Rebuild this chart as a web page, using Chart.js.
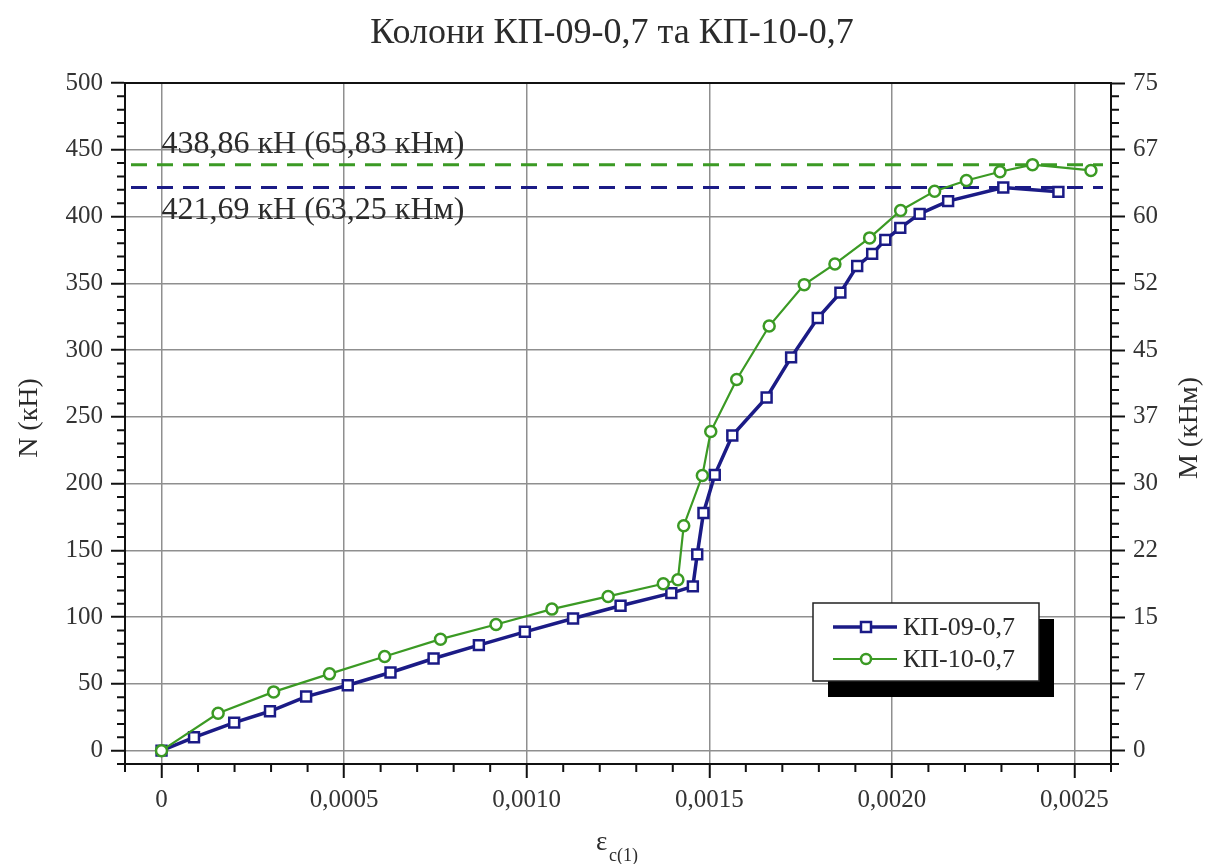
<!DOCTYPE html>
<html>
<head>
<meta charset="utf-8">
<script src="https://cdn.jsdelivr.net/npm/chart.js@4/dist/chart.umd.min.js"></script>
<style>
  html, body { margin: 0; padding: 0; background: #fff; }
  #wrap { width: 1218px; height: 864px; position: relative; }
</style>
</head>
<body>
<div id="wrap"><canvas id="chart" width="1218" height="864"></canvas></div>
<script>
// Відносні деформації та поздовжні сили, колона КП-09-0,7
const strain09 = [0, 0.000089, 0.000199, 0.000297, 0.000396, 0.000510, 0.000627, 0.000745, 0.000869, 0.000995,
  0.001127, 0.001257, 0.001396, 0.001455, 0.001467, 0.001484, 0.001515, 0.001563, 0.001657, 0.001724,
  0.001797, 0.001859, 0.001905, 0.001946, 0.001982, 0.002023, 0.002076, 0.002154, 0.002305, 0.002456];
const force09 = [0, 10, 21, 29.5, 40.5, 49, 58.5, 69, 79, 89,
  99, 108.5, 118, 123, 147, 178, 206.5, 236, 264.5, 294.5,
  324, 343, 363, 372, 382.5, 391.5, 402, 411.5, 421.69, 418.5];

// колона КП-10-0,7
const strain10 = [0, 0.000155, 0.000307, 0.000460, 0.000611, 0.000764, 0.000916, 0.001069, 0.001223, 0.001374,
  0.001414, 0.001430, 0.001481, 0.001504, 0.001575, 0.001664, 0.001760, 0.001844, 0.001939, 0.002024,
  0.002117, 0.002204, 0.002296, 0.002385, 0.002545];
const force10 = [0, 28, 44, 57.5, 70.5, 83.5, 94.5, 106, 115.5, 125,
  128, 168.5, 206, 239, 278, 318, 349, 364.5, 384, 404.5,
  419, 427, 433.5, 438.86, 434.5];

const seriesNames = ['КП-09-0,7', 'КП-10-0,7'];
const peakForces = [421.69, 438.86];   // максимальні N, кН
const momentFactor = 0.15;             // M = N * e, кНм

const xTicks = [0, 0.0005, 0.0010, 0.0015, 0.0020, 0.0025];
const nTicks = [0, 50, 100, 150, 200, 250, 300, 350, 400, 450, 500];
const mTicks = [0, 7.5, 15, 22.5, 30, 37.5, 45, 52.5, 60, 67.5, 75];

const X_MIN = -0.0001, X_MAX = 0.0026;
const N_MIN = -10, N_MAX = 500;

const BLUE = '#1b1b86';
const GREEN = '#3b9a24';
const FONT = '"Liberation Serif", "DejaVu Serif", serif';

const toPoints = (xs, ys) => xs.map((x, i) => ({ x: x, y: ys[i] }));
const fmtComma = (v, d) => v.toFixed(d).replace('.', ',');

// рамка, дрібні поділки, пунктирні рівні максимуму, підписи осей, легенда
const decorPlugin = {
  id: 'decor',
  beforeDatasetsDraw(chart) {
    const ctx = chart.ctx;
    const a = chart.chartArea;
    const y = chart.scales.y;
    const x = chart.scales.x;
    const colors = [BLUE, GREEN];
    ctx.save();
    ctx.lineWidth = 3;
    ctx.setLineDash([16, 10]);
    peakForces.forEach((p, i) => {
      const py = y.getPixelForValue(p);
      ctx.strokeStyle = colors[i];
      ctx.beginPath();
      ctx.moveTo(a.left + 6, py);
      ctx.lineTo(a.right - 8, py);
      ctx.stroke();
    });
    ctx.setLineDash([]);

    // підписи значень
    ctx.fillStyle = '#2b2b2b';
    ctx.font = '32px ' + FONT;
    ctx.textAlign = 'left';
    const x0 = x.getPixelForValue(0);
    const lab = p => fmtComma(p, 2) + ' кН (' + fmtComma(p * momentFactor, 2) + ' кНм)';
    ctx.textBaseline = 'alphabetic';
    ctx.fillText(lab(peakForces[1]), x0, y.getPixelForValue(peakForces[1]) - 12);
    ctx.textBaseline = 'top';
    ctx.fillText(lab(peakForces[0]), x0, y.getPixelForValue(peakForces[0]) + 7);
    ctx.restore();
  },
  afterDraw(chart) {
    const ctx = chart.ctx;
    const a = chart.chartArea;
    const x = chart.scales.x;
    const y = chart.scales.y;
    ctx.save();

    // рамка
    ctx.strokeStyle = '#111';
    ctx.lineWidth = 2;
    ctx.strokeRect(a.left, a.top, a.right - a.left, a.bottom - a.top);

    // дрібні поділки
    ctx.lineWidth = 2;
    ctx.beginPath();
    for (let k = -1; k <= 26; k++) {
      if (k % 5 === 0) continue;
      const px = x.getPixelForValue(k * 0.0001);
      ctx.moveTo(px, a.bottom);
      ctx.lineTo(px, a.bottom + 8);
    }
    for (let k = -1; k <= 50; k++) {
      if (k % 5 === 0) continue;
      const py = y.getPixelForValue(k * 10);
      ctx.moveTo(a.left, py);
      ctx.lineTo(a.left - 8, py);
      ctx.moveTo(a.right, py);
      ctx.lineTo(a.right + 8, py);
    }
    ctx.stroke();

    // заголовок
    ctx.fillStyle = '#2b2b2b';
    ctx.textAlign = 'center';
    ctx.textBaseline = 'middle';
    ctx.font = '36px ' + FONT;
    ctx.fillText('Колони ' + seriesNames[0] + ' та ' + seriesNames[1], 612, 34);

    // підписи осей
    ctx.font = '28px ' + FONT;
    ctx.save();
    ctx.translate(30, 418);
    ctx.rotate(-Math.PI / 2);
    ctx.fillText('N (кН)', 0, 0);
    ctx.restore();
    ctx.save();
    ctx.translate(1190, 428);
    ctx.rotate(-Math.PI / 2);
    ctx.fillText('M (кНм)', 0, 0);
    ctx.restore();

    ctx.textAlign = 'left';
    ctx.textBaseline = 'alphabetic';
    ctx.font = '27px ' + FONT;
    ctx.fillText('ε', 596, 850);
    ctx.font = '18px ' + FONT;
    ctx.fillText('c(1)', 609, 861);

    // легенда з тінню
    const bx = 813, by = 603, bw = 226, bh = 78;
    ctx.fillStyle = '#000';
    ctx.fillRect(bx + 15, by + 16, bw, bh);
    ctx.fillStyle = '#fff';
    ctx.fillRect(bx, by, bw, bh);
    ctx.strokeStyle = '#222';
    ctx.lineWidth = 1.5;
    ctx.strokeRect(bx, by, bw, bh);

    chart.data.datasets.forEach((ds, i) => {
      const row = ds.legendRow;
      const ly = by + 24 + row * 32;
      ctx.strokeStyle = ds.borderColor;
      ctx.lineWidth = ds.borderWidth;
      ctx.beginPath();
      ctx.moveTo(bx + 20, ly);
      ctx.lineTo(bx + 84, ly);
      ctx.stroke();
      ctx.fillStyle = '#fff';
      ctx.lineWidth = ds.pointBorderWidth;
      ctx.strokeStyle = ds.pointBorderColor;
      if (ds.pointStyle === 'rect') {
        ctx.fillRect(bx + 48, ly - 5, 10, 10);
        ctx.strokeRect(bx + 48, ly - 5, 10, 10);
      } else {
        ctx.beginPath();
        ctx.arc(bx + 53, ly, 5, 0, Math.PI * 2);
        ctx.fill();
        ctx.stroke();
      }
      ctx.fillStyle = '#2b2b2b';
      ctx.font = '26px ' + FONT;
      ctx.textBaseline = 'middle';
      ctx.fillText(ds.label, bx + 90, ly + 1);
    });
    ctx.restore();
  }
};

const setTicks = values => scale => { scale.ticks = values.map(v => ({ value: v })); };

new Chart(document.getElementById('chart'), {
  type: 'line',
  data: {
    datasets: [
      {
        label: seriesNames[1],
        data: toPoints(strain10, force10),
        borderColor: GREEN,
        borderWidth: 2.2,
        pointStyle: 'circle',
        pointRadius: 5.5,
        pointBorderWidth: 2.5,
        pointBorderColor: GREEN,
        pointBackgroundColor: '#fff',
        tension: 0,
        order: 0,
        legendRow: 1
      },
      {
        label: seriesNames[0],
        data: toPoints(strain09, force09),
        borderColor: BLUE,
        borderWidth: 3.5,
        pointStyle: 'rect',
        pointRadius: 7,
        pointBorderWidth: 2.5,
        pointBorderColor: BLUE,
        pointBackgroundColor: '#fff',
        tension: 0,
        order: 1,
        legendRow: 0
      }
    ]
  },
  options: {
    responsive: false,
    animation: false,
    layout: { padding: { top: 83, left: 0, right: 0, bottom: 0 } },
    plugins: { legend: { display: false }, tooltip: { enabled: false }, title: { display: false } },
    scales: {
      x: {
        type: 'linear',
        min: X_MIN,
        max: X_MAX,
        afterBuildTicks: setTicks(xTicks),
        afterFit: s => { s.height = 100; },
        border: { display: true, color: '#111', width: 2 },
        grid: { color: '#8f8f8f', lineWidth: 1.5, tickColor: '#111', tickWidth: 2, tickLength: 14 },
        ticks: {
          color: '#333',
          padding: 7,
          maxRotation: 0,
          font: { family: FONT, size: 25 },
          callback: v => v === 0 ? '0' : fmtComma(v, 4)
        }
      },
      y: {
        position: 'left',
        min: N_MIN,
        max: N_MAX,
        afterBuildTicks: setTicks(nTicks),
        afterFit: s => { s.width = 125; },
        border: { display: true, color: '#111', width: 2 },
        grid: { color: '#8f8f8f', lineWidth: 1.5, tickColor: '#111', tickWidth: 2, tickLength: 14 },
        ticks: { color: '#333', padding: 8, font: { family: FONT, size: 25 } }
      },
      y2: {
        position: 'right',
        min: N_MIN * momentFactor,
        max: N_MAX * momentFactor,
        afterBuildTicks: setTicks(mTicks),
        afterFit: s => { s.width = 107; },
        border: { display: true, color: '#111', width: 2 },
        grid: { drawOnChartArea: false, tickColor: '#111', tickWidth: 2, tickLength: 14 },
        ticks: {
          color: '#333',
          padding: 8,
          font: { family: FONT, size: 25 },
          callback: v => String(Math.floor(v))
        }
      }
    }
  },
  plugins: [decorPlugin]
});
</script>
</body>
</html>
